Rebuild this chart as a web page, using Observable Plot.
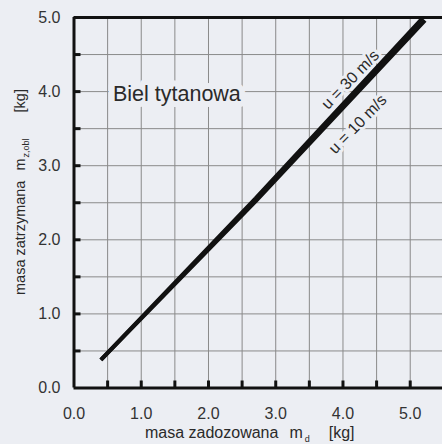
<!DOCTYPE html>
<html><head><meta charset="utf-8">
<script src="https://cdn.jsdelivr.net/npm/d3@7"></script>
<script src="https://cdn.jsdelivr.net/npm/@observablehq/plot@0.6"></script>
<style>
html,body{margin:0;padding:0;background:#eceef3;}
#chart svg{display:block;}
</style></head><body><div id="chart"></div>
<script>
// ---- data ----
const panelTitle = "Biel tytanowa";
const seriesNames = ["u = 30 m/s", "u = 10 m/s"];
const md30 = [0.4, 2.7, 5.18];
const mz30 = [0.38, 2.56, 4.99];
const md10 = [0.4, 2.7, 5.22];
const mz10 = [0.38, 2.52, 4.96];
const xTickValues = [0, 1, 2, 3, 4, 5];
const xTickLabels = ["0.0", "1.0", "2.0", "3.0", "4.0", "5.0"];
const yTickValues = [0, 1, 2, 3, 4, 5];
const yTickLabels = ["0.0", "1.0", "2.0", "3.0", "4.0", "5.0"];
const xGridValues = [0.5, 1, 1.5, 2, 2.5, 3, 3.5, 4, 4.5, 5];
const yGridValues = [0.5, 1, 1.5, 2, 2.5, 3, 3.5, 4, 4.5];
const xAxisLabel = ["masa zadozowana", "m", "d", "[kg]"];
const yAxisLabel = ["masa zatrzymana", "m", "z,obl", "[kg]"];

const rows = [
  ...md30.map((v, i) => ({series: seriesNames[0], md: v, mz: mz30[i]})),
  ...md10.map((v, i) => ({series: seriesNames[1], md: v, mz: mz10[i]}))
];

const W = 442, H = 444;
const mL = 73.5, mT = 17, mB = 56.5, mR = 0;
const plotW = W - mL - mR, plotH = H - mT - mB;
const BG = "#eceef3";
const FONT = "'Liberation Sans', Arial, Helvetica, sans-serif";
const TICK = 7;

const chart = Plot.plot({
  width: W, height: H,
  marginLeft: mL, marginTop: mT, marginBottom: mB, marginRight: mR,
  style: {background: BG, fontFamily: FONT, color: "#333", overflow: "visible"},
  x: {domain: [0, 5.48]},
  y: {domain: [0, 5]},
  marks: [
    Plot.gridX(xGridValues, {stroke: "#8a8a8a", strokeOpacity: 1, strokeWidth: 1}),
    Plot.gridY(yGridValues, {stroke: "#8a8a8a", strokeOpacity: 1, strokeWidth: 1}),
    Plot.axisX(xTickValues, {tickSize: 0, tickPadding: 20, fontSize: 16, fill: "#333",
      tickFormat: d => xTickLabels[xTickValues.indexOf(d)], label: null}),
    Plot.axisY(yTickValues, {tickSize: 0, tickPadding: 13.5, fontSize: 16, fill: "#333",
      tickFormat: d => yTickLabels[yTickValues.indexOf(d)], label: null}),
    Plot.text([panelTitle], {x: 1.53, y: 3.97, text: d => d, fontSize: 21.5, fill: "#2a2a2a",
      stroke: BG, strokeWidth: 12, strokeLinejoin: "round", textAnchor: "middle"}),
    Plot.text([seriesNames[0]], {x: 4.11, y: 4.16, text: d => d, rotate: -46, fontSize: 16,
      fill: "#2a2a2a", stroke: BG, strokeWidth: 6, strokeLinejoin: "round"}),
    Plot.text([seriesNames[1]], {x: 4.22, y: 3.56, text: d => d, rotate: -46, fontSize: 16,
      fill: "#2a2a2a", stroke: BG, strokeWidth: 6, strokeLinejoin: "round"}),
    Plot.line(rows, {x: "md", y: "mz", z: "series", stroke: "#111", strokeWidth: 4,
      strokeLinecap: "butt", strokeLinejoin: "miter"}),
    Plot.ruleX([0], {stroke: "#111", strokeWidth: 3}),
    Plot.ruleY([0, 5], {stroke: "#111", strokeWidth: 3}),
    Plot.tickX(xGridValues, {x: d => d, stroke: "#111", strokeWidth: 3, insetTop: plotH - TICK}),
    Plot.tickY(yGridValues, {y: d => d, stroke: "#111", strokeWidth: 3, insetRight: plotW - TICK})
  ]
});

const svg = d3.select(chart);
// y axis label
const yl = svg.append("text")
  .attr("transform", "translate(25,295) rotate(-90)")
  .attr("font-family", FONT).attr("font-size", 14.5).attr("fill", "#2a2a2a")
  .attr("text-anchor", "start");
yl.append("tspan").text(yAxisLabel[0]);
yl.append("tspan").attr("dx", 10).text(yAxisLabel[1]);
yl.append("tspan").attr("font-size", 9).attr("dy", 4).attr("dx", 1).text(yAxisLabel[2]);
yl.append("tspan").attr("dy", -4).attr("dx", 26).text(yAxisLabel[3]);
// x axis label
const xl = svg.append("text")
  .attr("x", 145).attr("y", 438)
  .attr("font-family", FONT).attr("font-size", 16).attr("fill", "#2a2a2a")
  .attr("text-anchor", "start");
xl.append("tspan").text(xAxisLabel[0]);
xl.append("tspan").attr("dx", 11).text(xAxisLabel[1]);
xl.append("tspan").attr("font-size", 9).attr("dy", 4).attr("dx", 2).text(xAxisLabel[2]);
xl.append("tspan").attr("dy", -4).attr("dx", 19).text(xAxisLabel[3]);

document.getElementById("chart").appendChild(chart);
</script></body></html>
